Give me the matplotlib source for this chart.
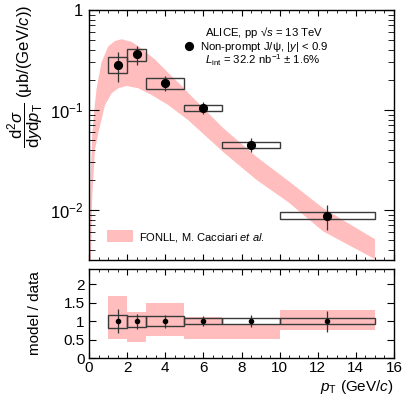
import numpy as np
import matplotlib
matplotlib.use('Agg')
import matplotlib.pyplot as plt
from matplotlib.patches import Rectangle, Patch
from matplotlib.lines import Line2D
from matplotlib.ticker import FixedLocator, FuncFormatter, MultipleLocator, LogLocator, NullFormatter

plt.rcParams['font.family'] = ['Liberation Sans', 'DejaVu Sans']
plt.rcParams['mathtext.fontset'] = 'custom'
plt.rcParams['mathtext.rm'] = 'Liberation Sans'
plt.rcParams['mathtext.it'] = 'Liberation Sans:italic'
plt.rcParams['mathtext.bf'] = 'Liberation Sans:bold'

# non-prompt J/psi cross section, pp 13 TeV
bin_lo = np.array([1, 2, 3, 5, 7, 10])
bin_hi = np.array([2, 3, 5, 7, 10, 15])
pt_center = np.array([1.5, 2.5, 4.0, 6.0, 8.5, 12.5])
xsec = np.array([0.285, 0.36, 0.186, 0.105, 0.045, 0.0088])
stat = np.array([0.095, 0.075, 0.032, 0.014, 0.0072, 0.0025])
syst = np.array([0.052, 0.052, 0.025, 0.008, 0.0034, 0.0007])

# FONLL band edges
fonll_up_pt = [0.03, 0.08, 0.17, 0.28, 0.40, 0.66, 1.0, 1.36, 1.71, 2.24, 2.76, 3.46,
               4.16, 5.03, 5.30, 7.04, 8.79, 10.54, 12.29, 15.0]
fonll_up = [0.0032, 0.02, 0.056, 0.10, 0.165, 0.30, 0.43, 0.49, 0.51, 0.48, 0.41, 0.32,
            0.235, 0.162, 0.142, 0.066, 0.034, 0.019, 0.0104, 0.0051]
fonll_lo_pt = [0.10, 0.17, 0.31, 0.50, 0.84, 1.19, 1.54, 1.97, 2.59, 3.29, 4.16, 5.21,
               7.04, 8.79, 10.45, 12.29, 15.0]
fonll_lo = [0.0032, 0.0135, 0.04, 0.06, 0.112, 0.147, 0.165, 0.174, 0.165, 0.141, 0.112,
            0.079, 0.038, 0.020, 0.012, 0.0061, 0.00323]

# model / data band per bin
ratio_up = np.array([1.69, 1.24, 1.49, 1.105, 0.915, 1.30])
ratio_lo = np.array([0.52, 0.44, 0.61, 0.525, 0.51, 0.76])

pink = '#ffbdbd'
boxcol = '#3a3a3a'

W, H = 407, 397
fig = plt.figure(figsize=(W / 100, H / 100), dpi=100)
ax1 = fig.add_axes([89 / W, 1 - 260 / H, 305 / W, 250 / H])
ax2 = fig.add_axes([89 / W, 1 - 358 / H, 305 / W, 89 / H])

# ---- top panel ----
ax1.set_yscale('log')
band_x = list(fonll_up_pt) + list(fonll_lo_pt[::-1])
band_y = list(fonll_up) + list(fonll_lo[::-1])
ax1.fill(band_x, band_y, color=pink, lw=0, zorder=1)

for lo, hi, y, s in zip(bin_lo, bin_hi, xsec, syst):
    ax1.add_patch(Rectangle((lo, y - s), hi - lo, 2 * s, fill=False,
                            edgecolor=boxcol, lw=1.0, zorder=3))
ax1.errorbar(pt_center, xsec, yerr=stat, fmt='none', ecolor='#333333',
             elinewidth=0.9, capsize=0, zorder=4)
ax1.plot(pt_center, xsec, 'o', color='black', ms=5.6, zorder=5)

ax1.set_xlim(0, 16)
ax1.set_ylim(10 ** -2.5, 1)
ax1.yaxis.set_major_locator(FixedLocator([1e-2, 1e-1, 1]))
ax1.yaxis.set_minor_locator(LogLocator(base=10, subs=np.arange(2, 10)))
ax1.yaxis.set_minor_formatter(NullFormatter())
ax1.yaxis.set_major_formatter(FuncFormatter(
    lambda v, p: '1' if abs(v - 1) < 1e-9 else r'$10^{%d}$' % round(np.log10(v))))
ax1.xaxis.set_major_locator(MultipleLocator(2))
ax1.xaxis.set_minor_locator(MultipleLocator(0.5))
ax1.tick_params(axis='x', labelbottom=False)
ax1.tick_params(which='both', direction='in', top=True, right=True)
ax1.tick_params(axis='y', which='major', length=7.5, labelsize=12, pad=4)
ax1.tick_params(axis='y', which='minor', length=4)
ax1.tick_params(axis='x', which='major', length=4.5)
ax1.tick_params(axis='x', which='minor', length=2.2)

ax1.set_ylabel(r'$\dfrac{\mathrm{d}^{2}\sigma}{\mathrm{d}y\mathrm{d}p_{\mathrm{T}}}$ (μb/(GeV/$c$))',
               fontsize=12, loc='top')
ax1.yaxis.set_label_coords(-0.14, 1.02)

ax1.text(0.380, 0.909, r'ALICE, pp √$s$ = 13 TeV', transform=ax1.transAxes,
         fontsize=8.2, va='center')
ax1.text(0.380, 0.800, r'$L_{\mathrm{int}}$ = 32.2 nb$^{-1}$ ± 1.6%', transform=ax1.transAxes,
         fontsize=8.2, va='center')
pt_handle = Line2D([], [], marker='o', color='black', ls='none', ms=5.6)
leg1 = ax1.legend([pt_handle], [r'Non-prompt J/ψ, |$y$| < 0.9'], loc='center left',
                  bbox_to_anchor=(0.312, 0.854), frameon=False, fontsize=8.2,
                  borderpad=0, borderaxespad=0, handlelength=0.9, handletextpad=0.45)
ax1.add_artist(leg1)
band_handle = Patch(facecolor=pink, edgecolor='none')
ax1.legend([band_handle], [r'FONLL, M. Cacciari $et\ al.$'], loc='center left',
           bbox_to_anchor=(0.059, 0.092), frameon=False, fontsize=8,
           borderpad=0, borderaxespad=0, handlelength=2.3, handleheight=1.3,
           handletextpad=0.6)

# ---- ratio panel ----
for lo, hi, u, d in zip(bin_lo, bin_hi, ratio_up, ratio_lo):
    ax2.add_patch(Rectangle((lo, d), hi - lo, u - d, facecolor=pink,
                            edgecolor='none', zorder=1))
rel_syst = syst / xsec
rel_stat = stat / xsec
ones = np.ones_like(pt_center)
for lo, hi, s in zip(bin_lo, bin_hi, rel_syst):
    ax2.add_patch(Rectangle((lo, 1 - s), hi - lo, 2 * s, fill=False,
                            edgecolor=boxcol, lw=1.0, zorder=3))
ax2.errorbar(pt_center, ones, yerr=rel_stat, fmt='none', ecolor='#333333',
             elinewidth=0.9, capsize=0, zorder=4)
ax2.plot(pt_center, ones, 'o', color='black', ms=3, zorder=5)

ax2.set_xlim(0, 16)
ax2.set_ylim(0, 2.42)
ax2.xaxis.set_major_locator(MultipleLocator(2))
ax2.xaxis.set_minor_locator(MultipleLocator(0.5))
ax2.yaxis.set_major_locator(FixedLocator([0, 0.5, 1, 1.5, 2]))
ax2.yaxis.set_major_formatter(FuncFormatter(lambda v, p: '%g' % v))
ax2.tick_params(which='both', direction='in', top=True, right=True)
ax2.tick_params(axis='both', which='major', labelsize=11)
ax2.tick_params(axis='y', which='major', length=5, pad=3)
ax2.tick_params(axis='x', which='major', length=4.5, pad=2)
ax2.tick_params(axis='x', which='minor', length=2.2)
ax2.set_ylabel('model / data', fontsize=11)
ax2.yaxis.set_label_coords(-0.155, 0.5)
ax2.set_xlabel(r'$p_{\mathrm{T}}$ (GeV/$c$)', fontsize=11, loc='right')
ax2.xaxis.set_label_coords(1.0, -0.22)

for ax in (ax1, ax2):
    for sp in ax.spines.values():
        sp.set_linewidth(1.0)

fig.savefig('out.png', dpi=100)
